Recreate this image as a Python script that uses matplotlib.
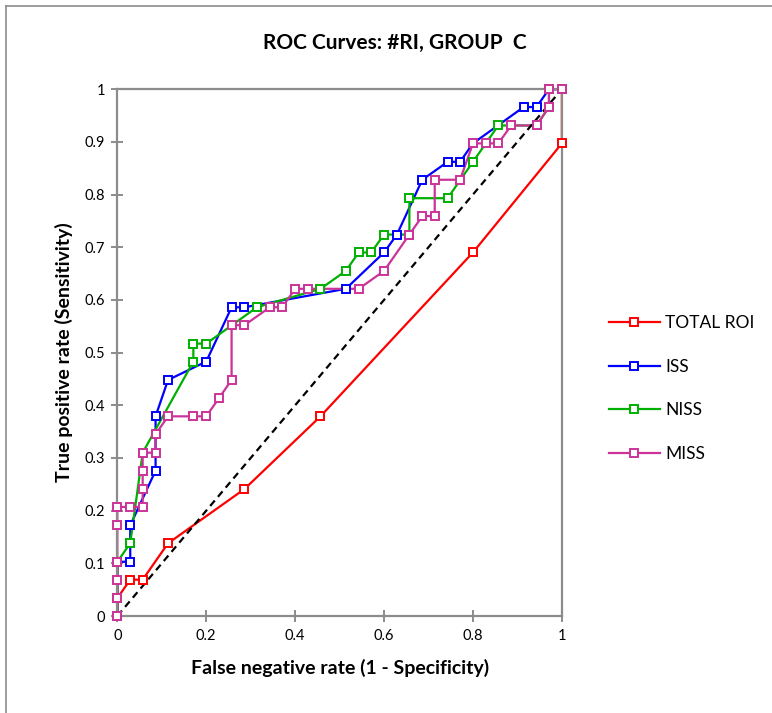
import matplotlib
matplotlib.use("Agg")
import matplotlib.pyplot as plt
from matplotlib.lines import Line2D

plt.rcParams['font.family'] = ['Lato', 'DejaVu Sans']

series_names = ["TOTAL ROI", "ISS", "NISS", "MISS"]

total_x = [0, 0, 0.029, 0.057, 0.114, 0.286, 0.457, 0.8, 1, 1]
total_y = [0, 0.034, 0.069, 0.069, 0.138, 0.241, 0.379, 0.69, 0.897, 1]

iss_x = [0, 0, 0.029, 0.029, 0.086, 0.086, 0.114, 0.2, 0.257, 0.286, 0.514,
         0.6, 0.629, 0.686, 0.743, 0.771, 0.8, 0.914, 0.943, 0.971, 1]
iss_y = [0, 0.103, 0.103, 0.172, 0.276, 0.379, 0.448, 0.483, 0.586, 0.586, 0.621,
         0.69, 0.724, 0.828, 0.862, 0.862, 0.897, 0.966, 0.966, 1, 1]

niss_x = [0, 0, 0.029, 0.057, 0.171, 0.171, 0.2, 0.314, 0.457, 0.514, 0.543, 0.571,
          0.6, 0.657, 0.657, 0.743, 0.8, 0.857, 0.886, 0.943, 0.971, 0.971, 1]
niss_y = [0, 0.103, 0.138, 0.31, 0.483, 0.517, 0.517, 0.586, 0.621, 0.655, 0.69, 0.69,
          0.724, 0.724, 0.793, 0.793, 0.862, 0.931, 0.931, 0.931, 0.966, 1, 1]

miss_x = [0, 0, 0, 0, 0, 0, 0.029, 0.057, 0.057, 0.057, 0.057, 0.086, 0.086, 0.114,
          0.171, 0.2, 0.229, 0.257, 0.257, 0.286, 0.343, 0.371, 0.4, 0.429, 0.543,
          0.6, 0.657, 0.686, 0.714, 0.714, 0.771, 0.8, 0.829, 0.857, 0.886, 0.943,
          0.971, 0.971, 1]
miss_y = [0, 0.034, 0.069, 0.103, 0.172, 0.207, 0.207, 0.207, 0.241, 0.276, 0.31, 0.31,
          0.345, 0.379, 0.379, 0.379, 0.414, 0.448, 0.552, 0.552, 0.586, 0.586, 0.621,
          0.621, 0.621, 0.655, 0.724, 0.759, 0.759, 0.828, 0.828, 0.897, 0.897, 0.897,
          0.931, 0.931, 0.966, 1, 1]

ref_x = [0, 1]
ref_y = [0, 1]

x_ticks = [0, 0.2, 0.4, 0.6, 0.8, 1]
x_tick_labels = ["0", "0.2", "0.4", "0.6", "0.8", "1"]
y_ticks = [0, 0.1, 0.2, 0.3, 0.4, 0.5, 0.6, 0.7, 0.8, 0.9, 1]
y_tick_labels = ["0", "0.1", "0.2", "0.3", "0.4", "0.5", "0.6", "0.7", "0.8", "0.9", "1"]

colors = ["#FF0000", "#0000FF", "#00B000", "#CC3399"]
data = [(total_x, total_y), (iss_x, iss_y), (niss_x, niss_y), (miss_x, miss_y)]

fig = plt.figure(figsize=(7.72, 7.13), dpi=100)
ax = fig.add_axes([0.152, 0.136, 0.5758, 0.739])

lw = 1.6
ms = 6.3
for i, ((xs, ys), c) in enumerate(zip(data, colors)):
    ax.plot(xs, ys, color=c, lw=lw, zorder=2 + i * 0.01, solid_joinstyle='round',
            clip_on=False)
ax.plot(ref_x, ref_y, color='black', lw=1.6, linestyle=(0, (3.2, 2.2)), zorder=2.5)
for i, ((xs, ys), c) in enumerate(zip(data, colors)):
    ax.plot(xs, ys, linestyle='none', marker='s', ms=ms, mfc='white', mec=c,
            mew=1.4, zorder=3 + i * 0.01, clip_on=False)

ax.set_xlim(0, 1)
ax.set_ylim(0, 1)
ax.set_xticks(x_ticks)
ax.set_xticklabels(x_tick_labels)
ax.set_yticks(y_ticks)
ax.set_yticklabels(y_tick_labels)
grey = "#8C8C8C"
for s in ax.spines.values():
    s.set_color(grey)
    s.set_linewidth(1.6)
ax.tick_params(axis='both', direction='inout', length=8, width=1.4, color=grey,
               labelsize=10.5, labelcolor='black', pad=5)

fig.text(395 / 772, 1 - 43 / 713, "ROC Curves: #RI, GROUP  C", fontsize=15,
         fontweight='bold', ha='center', va='center')
ax.set_xlabel("False negative rate (1 - Specificity)", fontsize=14, fontweight='bold',
              labelpad=12)
ax.set_ylabel("True positive rate (Sensitivity)", fontsize=14, fontweight='bold',
              labelpad=8)

handles = [Line2D([], [], color=c, lw=lw, marker='s', ms=ms, mfc='white', mec=c, mew=1.4)
           for c in colors]
fig.legend(handles, series_names, loc='center left', bbox_to_anchor=(0.768, 0.455),
           frameon=False, fontsize=12.5, handlelength=2.95, handletextpad=0.3,
           labelspacing=1.58)

# outer chart border
fig.add_artist(Line2D([0.008, 0.008], [0, 0.992], transform=fig.transFigure,
                      color=grey, lw=1.2))
fig.add_artist(Line2D([0.008, 1], [0.992, 0.992], transform=fig.transFigure,
                      color=grey, lw=1.2))

fig.savefig("out.png", dpi=100)
